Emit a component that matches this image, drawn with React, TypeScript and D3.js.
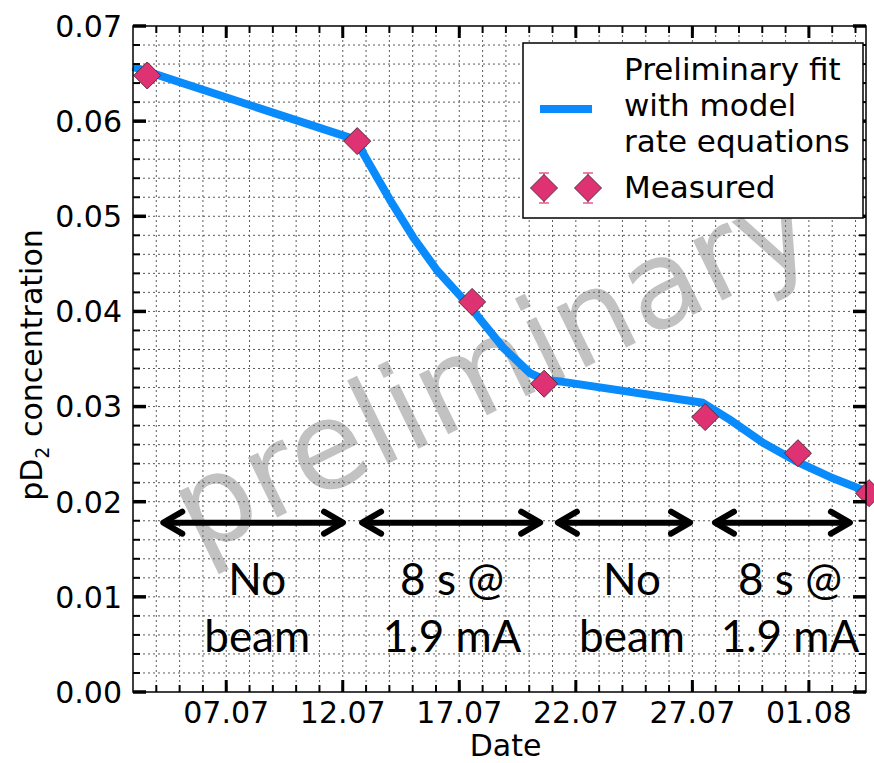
import React from "react";
import * as d3 from "d3";

const W = 874;
const H = 763;
const margin = { left: 133, right: 8, top: 26, bottom: 71 };

// day of July (32 = 01.08), pD2 concentration
const fitDay = [3.0, 12.62, 12.88, 14.03, 15.02, 16.05, 17.46, 18.88, 20.04, 20.68, 21.45, 27.45, 28.62, 30.03, 31.49, 32.9, 34.45];
const fitConc = [0.0657, 0.058, 0.0566, 0.0517, 0.0478, 0.0443, 0.0405, 0.0362, 0.0335, 0.0328, 0.0326, 0.0304, 0.0286, 0.0262, 0.0242, 0.0226, 0.0211];

const measDay = [3.61, 12.62, 17.55, 20.64, 27.55, 31.53, 34.58];
const measConc = [0.0648, 0.0579, 0.041, 0.0324, 0.0289, 0.0251, 0.0209];

const xMajorDays = [7, 12, 17, 22, 27, 32];
const xTickLabels = ["07.07", "12.07", "17.07", "22.07", "27.07", "01.08"];
const yMajor = [0, 0.01, 0.02, 0.03, 0.04, 0.05, 0.06, 0.07];

// beam periods
const periodFrom = [4.3, 12.83, 21.23, 27.97];
const periodTo = [12.01, 20.47, 26.9, 33.76];
const periodLabelDay = [8.33, 16.69, 24.41, 31.19];
const periodLines = [["No", "beam"], ["8 s @", "1.9 mA"], ["No", "beam"], ["8 s @", "1.9 mA"]];
const arrowConc = 0.0178;
const labelConc = [0.01017, 0.00418];

const BLUE = "#0a8bfb";
const PINK = "#df3272";
const EDGE = "#5a2a40";
const FONT = "DejaVu Sans, sans-serif";

const toDate = (d: number) => new Date(Date.UTC(2016, 6, 1) + (d - 1) * 864e5);

const diamond = (cx: number, cy: number, r: number) =>
  `M${cx},${cy - r}L${cx + r},${cy}L${cx},${cy + r}L${cx - r},${cy}Z`;

export default function App() {
  const x = d3
    .scaleUtc()
    .domain([toDate(3), toDate(34.45)])
    .range([margin.left, W - margin.right]);
  const y = d3
    .scaleLinear()
    .domain([0, 0.07])
    .range([H - margin.bottom, margin.top]);

  const [x0, x1] = x.range();
  const [y0, y1] = y.range();

  const minorDays = d3.utcDay.range(toDate(4), toDate(34.45));
  const minorY = d3.range(0.002, 0.0699, 0.002);

  const linePath = d3
    .line<number>()
    .x((_, i) => x(toDate(fitDay[i])))
    .y((d) => y(d))(fitConc);

  const arrow = (xa: number, xb: number, yy: number, k: number) => {
    const hl = 19;
    const hw = 11;
    return (
      <g key={k} stroke="#000" strokeWidth={6} strokeLinecap="round" strokeLinejoin="round" fill="none">
        <line x1={xa + 3} y1={yy} x2={xb - 3} y2={yy} />
        <polyline points={`${xa + hl},${yy - hw} ${xa},${yy} ${xa + hl},${yy + hw}`} />
        <polyline points={`${xb - hl},${yy - hw} ${xb},${yy} ${xb - hl},${yy + hw}`} />
      </g>
    );
  };

  return (
    <svg width={W} height={H} style={{ position: "absolute", left: 0, top: 0, background: "#fff" }} fontFamily={FONT}>
      {/* grid */}
      <g stroke="#333" strokeWidth={1} strokeDasharray="2,3" opacity={0.8}>
        {minorDays.map((d, i) => (
          <line key={"gx" + i} x1={x(d)} x2={x(d)} y1={y0} y2={y1} />
        ))}
        {minorY.map((v, i) => (
          <line key={"gy" + i} x1={x0} x2={x1} y1={y(v)} y2={y(v)} />
        ))}
      </g>

      {/* watermark */}
      <text
        transform="translate(510,404) rotate(-26)"
        textAnchor="middle"
        fontSize={122}
        fill="#7a7a7a"
        opacity={0.45}
      >
        preliminary
      </text>

      {/* fit */}
      <path d={linePath || ""} fill="none" stroke={BLUE} strokeWidth={8} strokeLinejoin="round" />

      {/* measured */}
      <g fill={PINK} stroke={EDGE} strokeWidth={1}>
        {measConc.map((v, i) => (
          <path key={"m" + i} d={diamond(x(toDate(measDay[i])), y(v), 13.5)} />
        ))}
      </g>

      {/* beam periods */}
      {periodFrom.map((f, i) => arrow(x(toDate(f)), x(toDate(periodTo[i])), y(arrowConc), i))}
      <g fontFamily="Lato, sans-serif" fontSize={44} textAnchor="middle" fill="#000">
        {periodLines.map((lines, i) =>
          lines.map((t, j) => (
            <text key={`p${i}-${j}`} x={x(toDate(periodLabelDay[i]))} y={y(labelConc[j])}>
              {t}
            </text>
          ))
        )}
      </g>

      {/* ticks */}
      <g stroke="#000">
        {minorDays.map((d, i) => (
          <g key={"tx" + i} strokeWidth={2}>
            <line x1={x(d)} x2={x(d)} y1={y0} y2={y0 - 7} />
            <line x1={x(d)} x2={x(d)} y1={y1} y2={y1 + 7} />
          </g>
        ))}
        {xMajorDays.map((d, i) => (
          <g key={"Tx" + i} strokeWidth={3}>
            <line x1={x(toDate(d))} x2={x(toDate(d))} y1={y0} y2={y0 - 12} />
            <line x1={x(toDate(d))} x2={x(toDate(d))} y1={y1} y2={y1 + 12} />
          </g>
        ))}
        {minorY.map((v, i) => (
          <g key={"ty" + i} strokeWidth={2}>
            <line x1={x0} x2={x0 + 7} y1={y(v)} y2={y(v)} />
            <line x1={x1} x2={x1 - 7} y1={y(v)} y2={y(v)} />
          </g>
        ))}
        {yMajor.map((v, i) => (
          <g key={"Ty" + i} strokeWidth={3.5}>
            <line x1={x0} x2={x0 + 13} y1={y(v)} y2={y(v)} />
            <line x1={x1} x2={x1 - 13} y1={y(v)} y2={y(v)} />
          </g>
        ))}
      </g>
      <rect x={x0} y={y1} width={x1 - x0} height={y0 - y1} fill="none" stroke="#000" strokeWidth={1.5} />

      {/* tick labels */}
      <g fontSize={30} fill="#000">
        {yMajor.map((v, i) => (
          <text key={"ly" + i} x={x0 - 11} y={y(v)} dy="0.36em" textAnchor="end">
            {d3.format(".2f")(v)}
          </text>
        ))}
        {xMajorDays.map((d, i) => (
          <text key={"lx" + i} x={x(toDate(d))} y={y0 + 31} textAnchor="middle">
            {xTickLabels[i]}
          </text>
        ))}
        <text x={(x0 + x1) / 2 + 6} y={y0 + 64} textAnchor="middle">
          Date
        </text>
        <text transform={`translate(42,${(y0 + y1) / 2 + 6}) rotate(-90)`} textAnchor="middle">
          pD
          <tspan fontSize={19} dy={7}>2</tspan>
          <tspan dy={-7}> concentration</tspan>
        </text>
      </g>

      {/* legend */}
      <g>
        <rect x={523} y={43} width={340} height={175} fill="#fff" stroke="#000" strokeWidth={1.5} />
        <line x1={540} x2={592} y1={109} y2={109} stroke={BLUE} strokeWidth={8} />
        <g stroke={PINK} strokeWidth={1.5} opacity={0.8}>
          {[544, 588].map((cx) => (
            <g key={"eb" + cx}>
              <line x1={cx} x2={cx} y1={173} y2={203} />
              <line x1={cx - 5} x2={cx + 5} y1={173} y2={173} />
              <line x1={cx - 5} x2={cx + 5} y1={203} y2={203} />
            </g>
          ))}
        </g>
        <g fill={PINK} stroke={EDGE} strokeWidth={1}>
          <path d={diamond(544, 188, 13.5)} />
          <path d={diamond(588, 188, 13.5)} />
        </g>
        <g fontSize={31} fill="#000">
          <text x={624} y={80}>Preliminary fit</text>
          <text x={624} y={116}>with model</text>
          <text x={624} y={152}>rate equations</text>
          <text x={624} y={198}>Measured</text>
        </g>
      </g>
    </svg>
  );
}
